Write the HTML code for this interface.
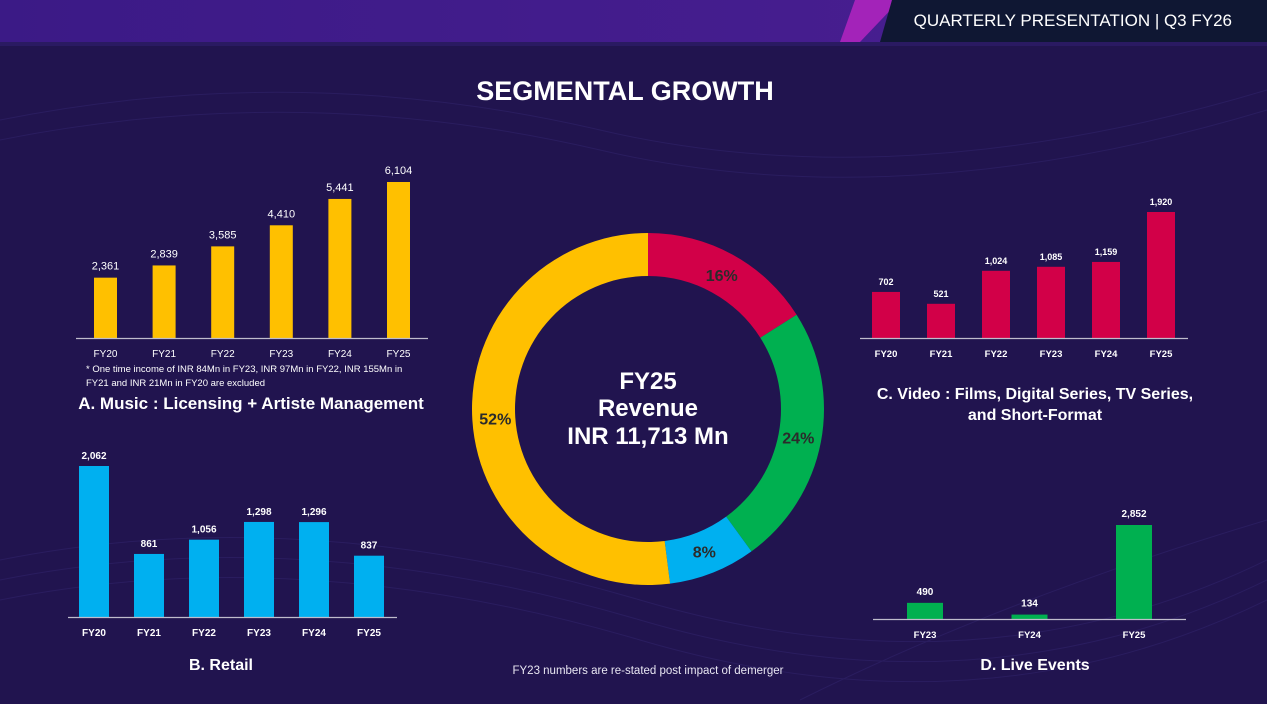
<!DOCTYPE html>
<html><head><meta charset="utf-8">
<style>
html,body{margin:0;padding:0;width:1267px;height:704px;overflow:hidden;background:#21144f;font-family:"Liberation Sans",sans-serif}
svg text{font-family:"Liberation Sans",sans-serif}
</style></head>
<body>
<svg width="1267" height="704" viewBox="0 0 1267 704">
<defs>
<linearGradient id="hdr" x1="0" x2="1"><stop offset="0" stop-color="#3b1a86"/><stop offset="1" stop-color="#4b1f93"/></linearGradient>
</defs>
<rect width="1267" height="704" fill="#21144f"/>
<g fill="none" stroke="#2e2166" stroke-width="1" opacity="0.7">
<path d="M0 120 Q300 60 600 130 T1267 90"/><path d="M0 140 Q300 80 600 150 T1267 110"/>
<path d="M0 560 Q300 500 640 600 T1267 560"/><path d="M0 580 Q300 520 640 620 T1267 580"/>
<path d="M0 600 Q300 540 640 640 T1267 600"/><path d="M800 700 Q1000 600 1267 520"/>
</g>
<g>
<rect x="0" y="0" width="1267" height="42" fill="url(#hdr)"/>
<polygon points="855,0 900,0 860,42 840,42" fill="#a323b9"/>
<polygon points="892,0 1267,0 1267,42 880,42" fill="#0f1733"/>
<text x="1232" y="26" text-anchor="end" fill="#ffffff" font-size="17">QUARTERLY PRESENTATION  |  Q3 FY26</text>
</g>
<rect x="0" y="42" width="1267" height="4" fill="#2a1a62"/>
<text x="625" y="100" text-anchor="middle" fill="#fff" font-size="27" font-weight="bold">SEGMENTAL GROWTH</text>
<g id="charts"></g>
<text x="648" y="674" text-anchor="middle" fill="#e8e6f2" font-size="11.5">FY23 numbers are re-stated post impact of demerger</text>
<text x="86" y="372" fill="#fff" font-size="9.5">* One time income of INR 84Mn in FY23, INR 97Mn in FY22, INR 155Mn in</text>
<text x="86" y="386" fill="#fff" font-size="9.5">FY21 and INR 21Mn in FY20 are excluded</text>
<text x="251" y="409" text-anchor="middle" fill="#fff" font-size="17" font-weight="bold">A. Music :  Licensing + Artiste Management</text>
<text x="221" y="670" text-anchor="middle" fill="#fff" font-size="16" font-weight="bold">B. Retail</text>
<text x="1035" y="399" text-anchor="middle" fill="#fff" font-size="16" font-weight="bold">C. Video : Films, Digital Series, TV Series,</text>
<text x="1035" y="420" text-anchor="middle" fill="#fff" font-size="16" font-weight="bold">and Short-Format</text>
<text x="1035" y="670" text-anchor="middle" fill="#fff" font-size="16" font-weight="bold">D. Live Events</text>
<g fill="#fff" font-weight="bold" text-anchor="middle" font-size="24">
<text x="648" y="389">FY25</text><text x="648" y="416">Revenue</text><text x="648" y="444">INR 11,713 Mn</text>
</g>
</svg>
<script>
const musicCats=["FY20","FY21","FY22","FY23","FY24","FY25"];
const musicVals=[2361,2839,3585,4410,5441,6104];
const musicLabels=["2,361","2,839","3,585","4,410","5,441","6,104"];
const retailCats=["FY20","FY21","FY22","FY23","FY24","FY25"];
const retailVals=[2062,861,1056,1298,1296,837];
const retailLabels=["2,062","861","1,056","1,298","1,296","837"];
const videoCats=["FY20","FY21","FY22","FY23","FY24","FY25"];
const videoVals=[702,521,1024,1085,1159,1920];
const videoLabels=["702","521","1,024","1,085","1,159","1,920"];
const liveCats=["FY23","FY24","FY25"];
const liveVals=[490,134,2852];
const liveLabels=["490","134","2,852"];
const donutNames=["video","live-events","retail","music"];
const donutVals=[16,24,8,52];
const donutLabels=["16%","24%","8%","52%"];

const NS="http://www.w3.org/2000/svg";
const root=document.getElementById('charts');
function mk(tag,attrs,parent){const e=document.createElementNS(NS,tag);for(const k in attrs)e.setAttribute(k,attrs[k]);(parent||root).appendChild(e);return e;}

function barChart(name,cats,vals,labels,o){
  const g=mk('g',{});
  
  
  const maxV=Math.max(...vals);
  const y=v=>o.base-v/maxV*o.maxH;
  const x=i=>o.x0+i*o.step;
  cats.forEach((c,i)=>{
    const r=mk('rect',{x:x(i)-o.bw/2,y:y(vals[i]),width:o.bw,height:o.base-y(vals[i]),fill:o.color},g);
    
    
    const t=mk('text',{x:x(i),y:y(vals[i])-o.lgap,'text-anchor':'middle',fill:'#fff','font-size':o.fs,'font-weight':o.bold?'bold':'normal'},g);
    t.textContent=labels[i];
    
    
    const xl=mk('text',{x:x(i),y:o.base+o.xgap,'text-anchor':'middle',fill:'#fff','font-size':o.xfs,'font-weight':o.bold?'bold':'normal'},g);
    xl.textContent=c;
    
    
  });
  const ax=mk('line',{x1:o.a0,x2:o.a1,y1:o.base+0.5,y2:o.base+0.5,stroke:'#bfbccc','stroke-width':1.2},g);
  
  
}
barChart('music',musicCats,musicVals,musicLabels,{x0:105.5,step:58.6,bw:23,base:338,maxH:156,color:'#ffc000',a0:76,a1:428,fs:11,lgap:8,xfs:10,xgap:19,bold:false});
barChart('retail',retailCats,retailVals,retailLabels,{x0:94,step:55,bw:30,base:617,maxH:151,color:'#00b0f0',a0:68,a1:397,fs:10,lgap:7,xfs:10,xgap:19,bold:true});
barChart('video',videoCats,videoVals,videoLabels,{x0:886,step:55,bw:28,base:338,maxH:126,color:'#d20048',a0:860,a1:1188,fs:9,lgap:7,xfs:9.5,xgap:19,bold:true});
barChart('live',liveCats,liveVals,liveLabels,{x0:925,step:104.5,bw:36,base:619,maxH:94,color:'#00b050',a0:873,a1:1186,fs:10,lgap:8,xfs:9.5,xgap:19,bold:true});

const colors=["#d20048","#00b050","#00b0f0","#ffc000"];
const cx=648,cy=409,R=176,r=133;
const tot=donutVals.reduce((a,b)=>a+b,0);
let a=0;
const dg=mk('g',{});


donutVals.forEach((v,i)=>{
  const a0=a/tot*2*Math.PI, a1=(a+v)/tot*2*Math.PI; a+=v;
  const p=(ang,rad)=>[cx+rad*Math.sin(ang),cy-rad*Math.cos(ang)];
  const [x0,y0]=p(a0,R),[x1,y1]=p(a1,R),[x2,y2]=p(a1,r),[x3,y3]=p(a0,r);
  const lg=(a1-a0)>Math.PI?1:0;
  const s=mk('path',{d:`M${x0} ${y0}A${R} ${R} 0 ${lg} 1 ${x1} ${y1}L${x2} ${y2}A${r} ${r} 0 ${lg} 0 ${x3} ${y3}Z`,fill:colors[i]},dg);
  
  
  const m=(a0+a1)/2;
  const [lx,ly]=p(m,153);
  const t=mk('text',{x:lx,y:ly+6,'text-anchor':'middle',fill:'#2b2b2b','font-size':16,'font-weight':'bold'},dg);
  t.textContent=donutLabels[i];
  
  
});
</script>
</body></html>
